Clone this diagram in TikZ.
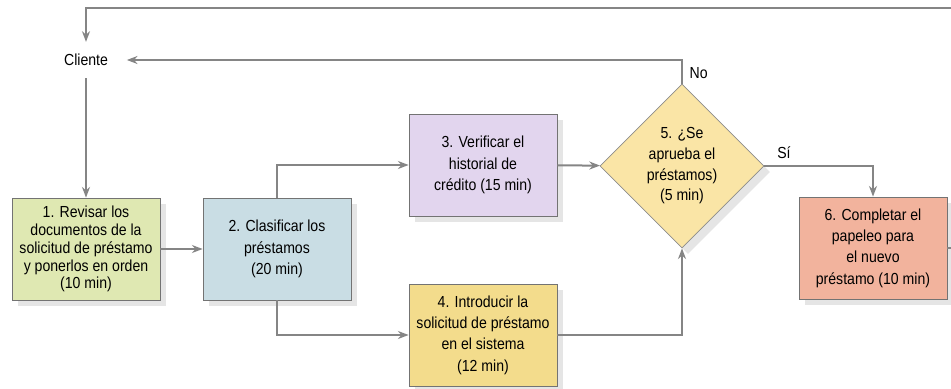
\documentclass[tikz,border=0pt]{standalone}
\usepackage{fontspec}
\setmainfont[FakeStretch=0.88]{Liberation Sans}
\usetikzlibrary{shapes.geometric,arrows.meta,positioning,shadows}

\definecolor{linegray}{HTML}{858585}
\definecolor{revisar}{HTML}{DFE8B2}
\definecolor{clasif}{HTML}{C9DDE4}
\definecolor{credito}{HTML}{E2D5EE}
\definecolor{sistema}{HTML}{F3DC8C}
\definecolor{aprueba}{HTML}{FAE5A6}
\definecolor{papeleo}{HTML}{F2B39D}

\begin{document}
\begin{tikzpicture}[x=0.75pt, y=-0.75pt,
    stepbox/.style={rectangle, draw=black!55, line width=0.6pt, minimum width=111pt, minimum height=76.5pt,
        align=center, font=\fontsize{12}{16}\selectfont,
        drop shadow={shadow xshift=4.5pt, shadow yshift=-4.5pt, fill=black!10, opacity=1}},
    decision/.style={diamond, aspect=1, inner sep=0pt, draw=black!45, line width=0.6pt, minimum size=123pt,
        align=center, font=\fontsize{12}{15.5}\selectfont,
        drop shadow={shadow xshift=4.5pt, shadow yshift=-4.5pt, fill=black!10, opacity=1}},
    tag/.style={font=\fontsize{12}{14}\selectfont},
    line/.style={draw=linegray, line width=1.5pt},
    arrow/.style={line, -{Stealth[length=8pt, width=6pt]}}
]
\useasboundingbox (0,0) rectangle (951,389);

% Cliente y pasos del proceso
\node[tag, inner xsep=14pt, inner ysep=9pt] (cli) at (86,60) {Cliente};
\node[stepbox, fill=revisar, font=\fontsize{12}{13.4}\selectfont] (b1) at (86,249) {1. Revisar los\\documentos de la\\solicitud de préstamo\\y ponerlos en orden\\(10 min)};
\node[stepbox, fill=clasif] (b2) at (277,249) {2. Clasificar los\\préstamos\\(20 min)};
\node[stepbox, fill=credito] (b3) at (483,165) {3. Verificar el\\historial de\\crédito (15 min)};
\node[stepbox, fill=sistema] (b4) at (483,335) {4. Introducir la\\solicitud de préstamo\\en el sistema\\(12 min)};
\node[decision, fill=aprueba] (b5) at (682,166) {5. ¿Se\\aprueba el\\préstamos)\\(5 min)};
\node[stepbox, fill=papeleo] (b6) at (873,248) {6. Completar el\\papeleo para\\el nuevo\\préstamo (10 min)};

% Vuelta al cliente
\coordinate (loopR) at (962,8);
\coordinate (loopL) at (86,8);

% Flechas entre pasos
\draw[arrow] (cli) -- (b1);
\draw[arrow] (b1) -- (b2);
\draw[arrow] (b2.north) |- (b3);
\draw[arrow] (b2.south) |- (b4);
\draw[arrow] (b3) -- (b5);
\draw[arrow] (b4) -| (b5.south);
\draw[arrow] (b5.north) |- node[tag, pos=0.22, right, inner xsep=5pt] {No} (cli.east);
\draw[arrow] (b5.east) -| node[tag, pos=0.09, above, inner ysep=5pt] {Sí} (b6.north);
\draw[arrow] (b6.east) -| (loopR) -- (loopL) -- (cli.north);

\end{tikzpicture}
\end{document}
